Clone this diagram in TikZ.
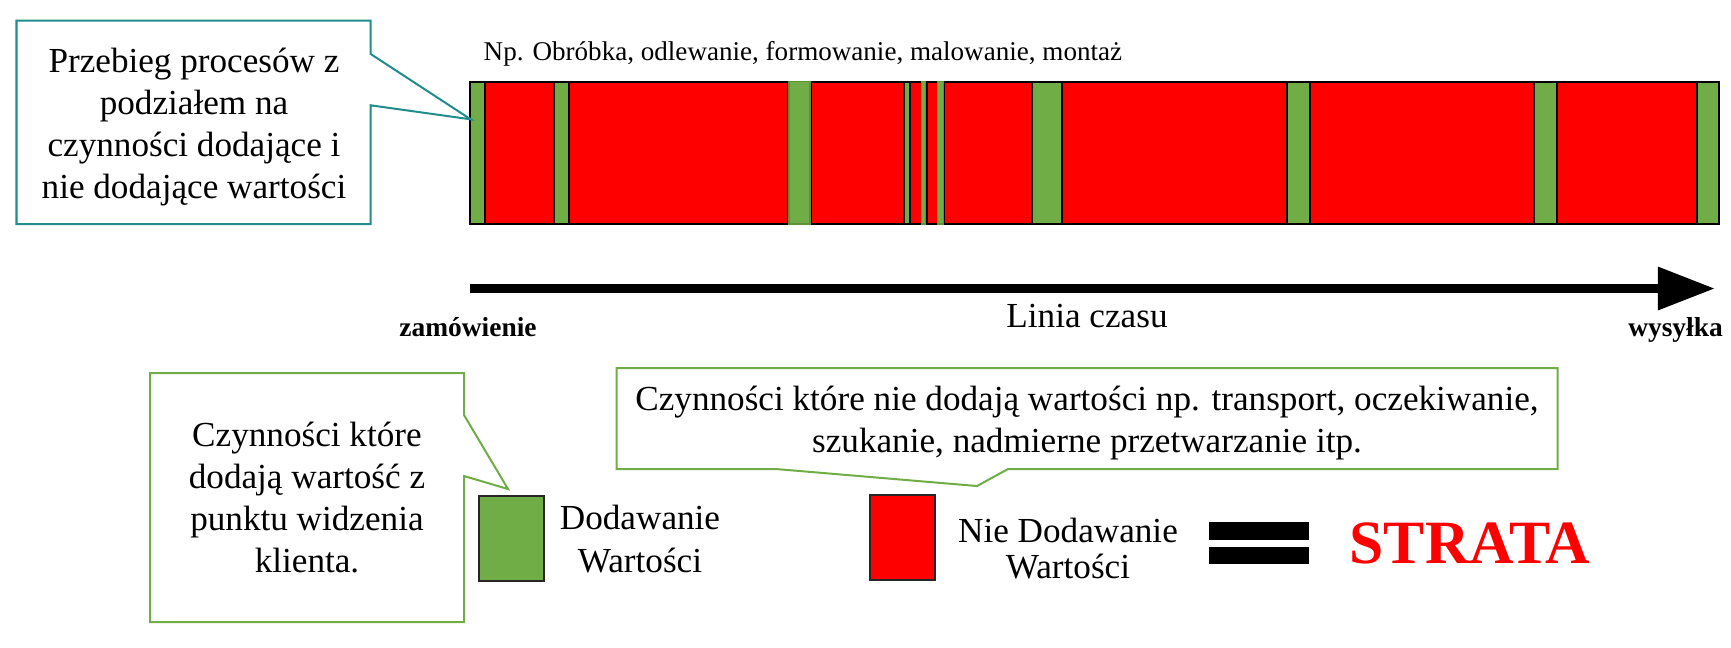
\documentclass[tikz,border=0pt]{standalone}
\usepackage{fontspec}
\setmainfont{Liberation Serif}
\usepackage{tikz}
\usetikzlibrary{calc}
\usetikzlibrary{arrows.meta}

\definecolor{addgreen}{HTML}{70AD47}
\definecolor{addgreendark}{HTML}{5E9438}
\definecolor{wastered}{HTML}{FF0000}
\definecolor{calloutteal}{RGB}{32,140,140}

\tikzset{
  segment/.style={draw=black, line width=0.02cm},
  softsegment/.style={draw=addgreendark, line width=0.015cm, fill=addgreen},
  calloutline/.style={line width=0.02cm, line join=miter},
  callouttext/.style={inner sep=0pt, align=center, font=\fontsize{10}{12}\selectfont},
  keybox/.style={draw=black!85, line width=0.02cm, minimum width=0.65cm, minimum height=0.85cm, inner sep=0pt},
  smalllabel/.style={inner sep=0pt, anchor=base, font=\fontsize{7.8}{9}\selectfont},
}

\begin{document}
\begin{tikzpicture}[x=0.01cm, y=-0.01cm]
                \useasboundingbox (0,0) rectangle (1731,647);

                % Drawing bar of activities
                \foreach \xa/\xb/\col in {470/485/addgreen, 485/554/wastered, 554/569/addgreen,
                    569/788/wastered, 788/811/addgreen, 811/904/wastered, 904/910/addgreen,
                    910/922/wastered, 922/926.5/addgreen, 926.5/938/wastered, 938/944/addgreen,
                    944/1032/wastered, 1032/1062/addgreen, 1062/1287/wastered, 1287/1310/addgreen,
                    1310/1534/wastered, 1534/1557/addgreen, 1557/1697/wastered, 1697/1719/addgreen}
                  \filldraw [segment, fill=\col] (\xa,81.5) rectangle (\xb,224);%

                % Green bars without black frame
                \foreach \xa/\xb in {789/810, 921.5/925.5, 937.5/943.3}
                  \filldraw [softsegment] (\xa,81.5) rectangle (\xb,224);%

                % Marking examples above bar
                \node [smalllabel, anchor=base west, font=\fontsize{7.7}{9}\selectfont] (examples) at (483,60) {Np. Obróbka, odlewanie, formowanie, malowanie, montaż};%

                % Callout to bar
                \coordinate (bartip) at (470.7,119.3);
                \draw [calloutline, draw=calloutteal] (16.5,20.7) -- (370.7,20.7) -- (370.7,54) -- (bartip) -- (370.7,105.3) -- (370.7,224) -- (16.5,224) -- cycle;%
                \node [callouttext] (przebieg) at (194,127) {Przebieg procesów z\\ podziałem na\\ czynności dodające i\\ nie dodające wartości};%

                % Drawing time line
                \coordinate (tstart) at (470,288.5);
                \coordinate (tend) at (1715,288.5);
                \draw [line width=0.093cm, -{Triangle[length=0.57cm, width=0.41cm]}] (tstart) -- (tend);%
                \node [smalllabel, font=\bfseries\fontsize{7.8}{9}\selectfont] (order) at (468,336) {zamówienie};%
                \node [smalllabel, font=\bfseries\fontsize{7.8}{9}\selectfont] (shipping) at (1675.5,336) {wysyłka};%
                \node [smalllabel, font=\fontsize{10}{12}\selectfont] (timeline) at (1087,327) {Linia czasu};%

                % Callout to green key
                \coordinate (addtip) at (508,489);
                \draw [calloutline, draw=addgreen] (150,373) -- (464,373) -- (464,415) -- (addtip) -- (464,476) -- (464,622) -- (150,622) -- cycle;%
                \node [callouttext] (addnote) at (307,497.5) {Czynności które\\ dodają wartość z\\ punktu widzenia\\ klienta.};%

                % Callout to red key
                \coordinate (wastetip) at (977,486);
                \draw [calloutline, draw=addgreen] (616.5,368) -- (1557.6,368) -- (1557.6,469) -- (1008,469) -- (wastetip) -- (776,469) -- (616.5,469) -- cycle;%
                \node [callouttext] (wastenote) at (1087,423) {Czynności które nie dodają wartości np. transport, oczekiwanie,\\ szukanie, nadmierne przetwarzanie itp.};%

                % Marking keys
                \node [keybox, fill=addgreen] (addkey) at (511.5,538) {};%
                \node [callouttext] (addtext) at (640,539) {Dodawanie\\ Wartości};%
                \node [keybox, fill=wastered] (wastekey) at (902.5,537) {};%
                \node [callouttext, font=\fontsize{10}{10}\selectfont] (wastetext) at (1068,548.5) {Nie Dodawanie\\ Wartości};%

                % Equal sign and result
                \fill (1208.5,522.3) rectangle (1309,540);%
                \fill (1208.5,546.7) rectangle (1309,564.3);%
                \node [smalllabel, text=wastered, font=\bfseries\fontsize{17.5}{20}\selectfont] (strata) at (1470,563) {STRATA};%
\end{tikzpicture}
\end{document}
